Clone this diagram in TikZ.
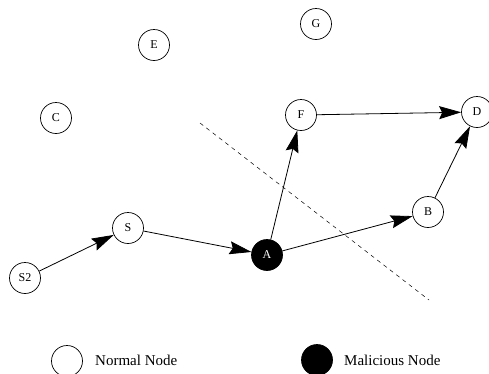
\documentclass[tikz,border=0pt]{standalone}
\usepackage{fontspec}
\setmainfont{Liberation Serif}
\usetikzlibrary{arrows.meta}
\begin{document}
\begin{tikzpicture}[x=1pt,y=-1pt,
  nnode/.style={circle,draw,line width=0.7pt,minimum size=31pt,inner sep=0pt,font=\fontsize{12}{12}\selectfont},
  mnode/.style={nnode,fill=black,text=white},
  arr/.style={line width=0.8pt,-{Stealth[length=22pt,width=13pt,inset=3pt]}},
  legtext/.style={anchor=west,font=\fontsize{15}{15}\selectfont,inner sep=0pt}]
\useasboundingbox (0,0) rectangle (489,373);
\node[nnode] (E) at (154,45) {E};
\node[nnode] (C) at (56,118) {C};
\node[nnode] (G) at (316,24) {G};
\node[nnode] (F) at (301,115) {F};
\node[nnode] (D) at (477,112) {D};
\node[nnode] (S) at (128,228) {S};
\node[nnode] (S2) at (25,278) {S2};
\node[mnode] (A) at (267,255) {A};
\node[nnode] (B) at (428,212) {B};
\coordinate (d1) at (200,123);
\coordinate (d2) at (429,300);
\draw[dashed,line width=0.5pt,dash pattern=on 4pt off 4pt] (d1) -- (d2);
\draw[arr] (S2) -- (S);
\draw[arr] (S) -- (A);
\draw[arr] (A) -- (F);
\draw[arr] (A) -- (B);
\draw[arr] (F) -- (D);
\draw[arr] (B) -- (D);
\node[nnode] (ln) at (67,361) {};
\node[legtext] (lnt) at (95,360) {Normal Node};
\node[mnode] (lm) at (317,360) {};
\node[legtext] (lmt) at (344,360) {Malicious Node};
\end{tikzpicture}
\end{document}
